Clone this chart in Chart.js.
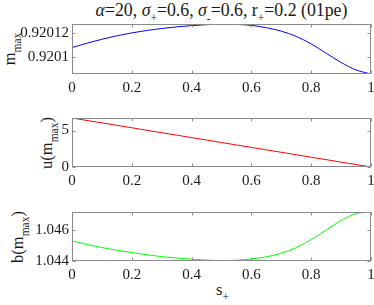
<!DOCTYPE html>
<html>
<head>
<meta charset="utf-8">
<script src="https://cdn.jsdelivr.net/npm/chart.js@4.4.1/dist/chart.umd.min.js"></script>
<style>
  html, body { margin: 0; padding: 0; background: #fff; }
  body { width: 374px; height: 305px; position: relative; overflow: hidden;
         font-family: "Liberation Serif", "Times New Roman", serif; color: #1a1a1a; }
  canvas { position: absolute; left: 0; }
  .lbl { position: absolute; white-space: nowrap; font-size: 16.5px; line-height: 16px; }
  .lbl sub { font-size: 11.5px; vertical-align: -6px; line-height: 0; }
  .rot { transform: translate(-50%, -50%) rotate(-90deg); }
  #title { font-size: 17.8px; }
</style>
</head>
<body>
<div class="lbl" id="title" style="left:221.5px; top:2px; transform:translateX(-50%);">
  <i>&alpha;</i>=20, <i>&sigma;</i><sub>+</sub>=0.6, <i>&sigma;</i><sub>-</sub>=0.6, r<sub>+</sub>=0.2 (01pe)
</div>
<div class="lbl rot" style="left:10px; top:49px;">m<sub>max</sub></div>
<div class="lbl rot" style="left:47px; top:142.5px;">u(m<sub>max</sub>)</div>
<div class="lbl rot" style="left:18px; top:236.6px;">b(m<sub>max</sub>)</div>
<div class="lbl" style="left:216px; top:282px;">s<sub>+</sub></div>

<canvas id="cM" width="374" height="100" style="top:0px"></canvas>
<canvas id="cU" width="374" height="100" style="top:100px"></canvas>
<canvas id="cB" width="374" height="105" style="top:200px"></canvas>

<script>
const sPlus = [0, 0.05, 0.1, 0.15, 0.2, 0.25, 0.3, 0.35, 0.4, 0.45, 0.5,
               0.55, 0.6, 0.65, 0.7, 0.75, 0.8, 0.85, 0.9, 0.95, 1];

const mMax = [0.9201078, 0.9201116, 0.920115, 0.920118, 0.9201205, 0.9201226,
              0.9201243, 0.9201257, 0.9201268, 0.9201276, 0.920128, 0.9201278,
              0.920127, 0.920125, 0.920122, 0.9201175, 0.920111, 0.920103,
              0.920095, 0.9200885, 0.920085];

const uMax = [6.72, 6.38, 6.05, 5.71, 5.38, 5.04, 4.70, 4.37, 4.03, 3.70, 3.36,
              3.02, 2.69, 2.35, 2.02, 1.68, 1.34, 1.01, 0.67, 0.34, 0];

const bMax = [1.04529, 1.04506, 1.04486, 1.04469, 1.04454, 1.0444, 1.04428,
              1.04419, 1.04412, 1.04406, 1.04402, 1.04405, 1.04413, 1.04427,
              1.0445, 1.04485, 1.04538, 1.04598, 1.0466, 1.04703, 1.04714];

const xTicks = [0, 0.2, 0.4, 0.6, 0.8, 1];
const mTicks = [0.9201, 0.92012];
const uTicks = [0, 5];
const bTicks = [1.044, 1.046];

const serif = "'Liberation Serif', 'Times New Roman', serif";
Chart.defaults.font.family = serif;
Chart.defaults.color = "#1a1a1a";
const tickFont = { family: serif, size: 15 };
const axisGray = "#8a8a8a";

// box round the plot with MATLAB style inward ticks
const framePlugin = {
  id: "frame",
  afterDraw(chart) {
    const { ctx, chartArea: a, scales } = chart;
    const L = Math.round(a.left) + 0.5, R = Math.round(a.right) - 0.5;
    const T = Math.round(a.top) + 0.5, B = Math.round(a.bottom) - 0.5;
    ctx.save();
    ctx.strokeStyle = axisGray;
    ctx.lineWidth = 1;
    ctx.strokeRect(L, T, R - L, B - T);
    ctx.beginPath();
    scales.x.ticks.forEach((t) => {
      const px = Math.round(scales.x.getPixelForValue(t.value)) + 0.5;
      ctx.moveTo(px, B); ctx.lineTo(px, B - 3);
      ctx.moveTo(px, T); ctx.lineTo(px, T + 3);
    });
    scales.y.ticks.forEach((t) => {
      const py = Math.round(scales.y.getPixelForValue(t.value)) + 0.5;
      ctx.moveTo(L, py); ctx.lineTo(L + 3, py);
      ctx.moveTo(R, py); ctx.lineTo(R - 3, py);
    });
    ctx.stroke();
    ctx.restore();
  }
};

function makePanel(id, values, color, yTicks, yMin, yMax, padTop, xAxisH) {
  new Chart(document.getElementById(id), {
    type: "line",
    data: {
      datasets: [{
        data: sPlus.map((s, i) => ({ x: s, y: values[i] })),
        borderColor: color,
        borderWidth: 1,
        pointRadius: 0,
        cubicInterpolationMode: "monotone",
        fill: false
      }]
    },
    options: {
      responsive: false,
      animation: false,
      events: [],
      layout: { padding: { left: 0, right: 3, top: padTop, bottom: 0 } },
      plugins: { legend: { display: false }, tooltip: { enabled: false } },
      scales: {
        x: {
          type: "linear",
          min: 0,
          max: 1,
          grid: { display: false, drawTicks: false },
          border: { display: false },
          afterBuildTicks: (s) => { s.ticks = xTicks.map((v) => ({ value: v })); },
          afterFit: (s) => { s.height = xAxisH; s.paddingLeft = 0; s.paddingRight = 0; },
          ticks: { font: tickFont, color: "#1a1a1a", padding: 5, maxRotation: 0,
                   callback: (v) => String(v) }
        },
        y: {
          min: yMin,
          max: yMax,
          grid: { display: false, drawTicks: false },
          border: { display: false },
          afterBuildTicks: (s) => { s.ticks = yTicks.map((v) => ({ value: v })); },
          afterFit: (s) => { s.width = 72; s.paddingTop = 0; s.paddingBottom = 0; },
          ticks: { font: tickFont, color: "#1a1a1a", padding: 3,
                   callback: (v) => String(v) }
        }
      }
    },
    plugins: [framePlugin]
  });
}

makePanel("cM", mMax, "#0000ff", mTicks, 0.920085, 0.9201282, 24, 26);
makePanel("cU", uMax, "#ff0000", uTicks, 0, 6.72, 18, 33);
makePanel("cB", bMax, "#00ff00", bTicks, 1.044, 1.04714, 12, 44);
</script>
</body>
</html>
